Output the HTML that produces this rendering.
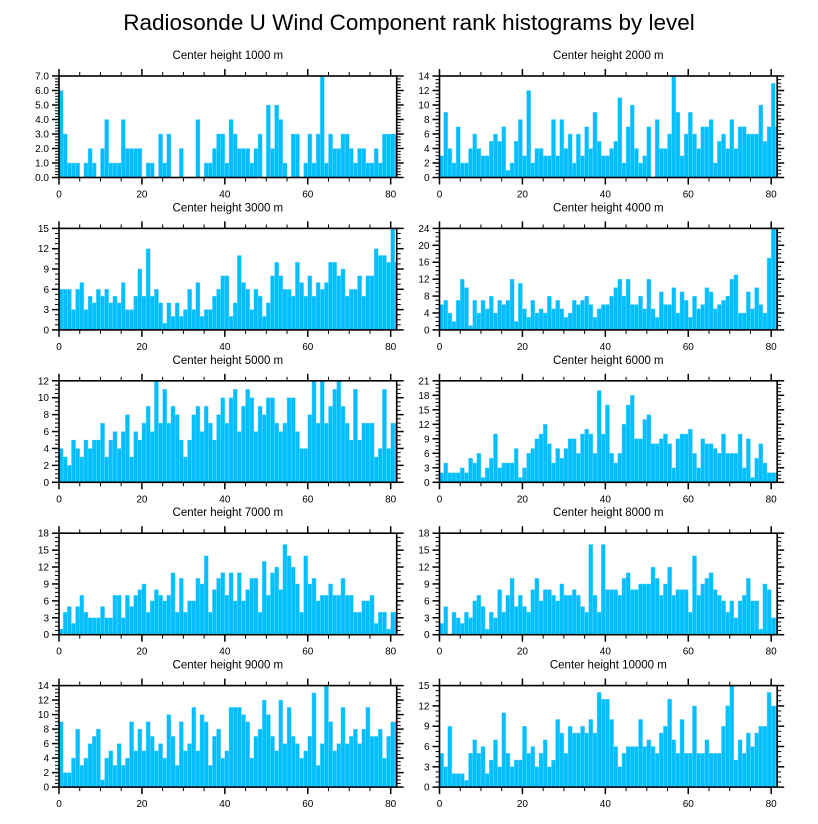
<!DOCTYPE html>
<html><head><meta charset="utf-8">
<style>
html,body{margin:0;padding:0;background:#fff;}
svg{display:block;font-family:"Liberation Sans",sans-serif;}
</style></head>
<body>
<svg id="chart" width="818" height="824" viewBox="0 0 818 824" xmlns="http://www.w3.org/2000/svg">
<text x="409" y="30" text-anchor="middle" font-size="22.5">Radiosonde U Wind Component rank histograms by level</text>
</svg>
<script>
const panelTitles = ["Center height 1000 m","Center height 2000 m","Center height 3000 m","Center height 4000 m","Center height 5000 m","Center height 6000 m","Center height 7000 m","Center height 8000 m","Center height 9000 m","Center height 10000 m"];
const yMaxes = [7,14,15,24,12,21,18,18,14,15];
const ySteps = [1,2,3,4,2,3,3,3,2,3];
const xTicks = [0,20,40,60,80];
const h1000 = [6,3,1,1,1,0,1,2,1,0,2,4,1,1,1,4,2,2,2,2,0,1,1,0,3,1,3,0,0,2,0,0,0,4,0,1,1,2,3,3,1,4,3,2,2,2,1,2,3,0,5,2,5,4,1,0,3,3,0,1,3,1,3,7,1,3,2,2,3,3,2,1,2,2,1,1,2,1,3,3,3,3];
const h2000 = [3,9,4,2,7,2,2,4,6,4,3,3,5,6,5,7,1,2,5,8,3,12,2,4,4,3,3,8,3,8,4,6,2,6,3,7,4,9,5,3,3,4,5,11,2,7,10,4,2,3,7,0,8,4,4,6,14,9,3,6,9,6,4,7,7,8,2,5,6,4,8,4,7,7,6,6,6,10,5,7,13,7];
const h3000 = [6,6,6,3,6,7,3,5,4,6,5,6,4,5,4,7,3,3,5,9,5,12,5,6,4,1,4,2,4,2,3,6,3,7,2,3,3,5,6,8,8,2,4,11,7,6,3,6,5,2,4,8,10,8,6,6,5,10,7,5,8,5,7,6,7,10,10,8,9,5,6,6,8,5,8,8,12,11,11,10,15,10];
const h4000 = [6,7,4,2,7,12,10,1,7,4,7,5,8,4,7,6,7,12,2,11,5,3,7,4,5,4,8,5,7,5,3,4,7,6,7,8,6,3,5,6,6,8,10,12,8,12,6,6,8,5,12,5,3,9,6,6,10,4,9,7,3,8,5,6,10,9,5,6,7,8,12,13,4,4,9,5,10,6,4,17,24,24];
const h5000 = [4,3,2,5,4,3,5,4,5,5,7,3,5,6,4,6,8,3,6,5,7,9,6,12,7,11,7,9,8,5,3,5,8,9,6,9,7,5,8,10,7,10,11,6,9,11,10,6,9,8,10,10,7,6,7,10,10,6,4,4,8,12,7,12,7,9,11,12,9,7,5,11,5,7,7,7,3,4,11,4,7,7];
const h6000 = [2,4,2,2,2,3,2,5,4,6,1,3,5,10,3,4,4,4,7,1,3,6,7,9,10,12,8,4,7,5,7,9,9,6,10,11,10,6,19,10,16,6,4,6,12,16,18,9,9,13,14,8,8,9,10,8,3,9,10,10,11,6,3,9,8,8,7,6,10,6,6,6,10,3,9,1,5,8,4,2,2,2];
const h7000 = [1,4,5,2,5,7,4,3,3,3,5,3,3,7,7,3,7,5,7,8,9,4,6,8,7,6,7,11,4,10,4,6,6,10,9,14,4,8,10,11,7,11,6,11,6,8,10,10,4,13,7,11,12,8,16,14,12,9,4,14,9,10,6,7,7,9,7,7,10,7,7,4,4,6,6,7,2,4,4,1,4,4];
const h8000 = [2,5,0,4,3,2,4,3,6,7,5,1,4,3,8,4,7,10,5,7,5,4,8,10,6,8,8,7,6,9,7,7,8,7,5,4,16,7,4,16,8,8,8,7,10,11,8,8,9,9,9,12,10,7,9,12,7,8,8,8,4,14,7,9,10,11,8,7,6,4,6,3,6,7,10,6,6,1,9,8,3,3];
const h9000 = [9,2,2,4,8,3,4,6,7,8,1,4,5,3,6,3,4,9,5,8,5,9,7,5,6,4,10,7,3,9,5,6,11,5,10,9,3,7,8,4,5,11,11,11,10,9,4,7,8,12,10,7,5,12,6,11,7,6,4,5,7,13,3,6,14,9,5,6,11,6,7,8,6,8,11,7,7,8,4,7,9,9];
const h10000 = [5,3,9,2,2,2,1,5,7,5,6,2,4,7,3,11,5,3,4,4,9,5,6,3,5,7,3,4,10,8,5,9,8,8,9,8,10,8,14,13,13,10,6,3,5,6,6,6,10,6,7,6,5,8,9,13,7,5,10,5,5,12,5,5,7,5,5,5,9,12,15,4,7,5,8,6,8,9,9,14,12,12];
const seriesList = [h1000,h2000,h3000,h4000,h5000,h6000,h7000,h8000,h9000,h10000];

const NS = "http://www.w3.org/2000/svg";
const svg = document.getElementById('chart');
const XMAX = 81.45, PW = 337.7, PH = 101.5;
function mk(tag, attrs, parent){const e=document.createElementNS(NS,tag);for(const k in attrs)e.setAttribute(k,attrs[k]);parent.appendChild(e);return e;}

seriesList.forEach((vals, p) => {
  const col = p % 2, row = Math.floor(p / 2);
  const x0 = col === 0 ? 59 : 439.5;
  const y0 = 76 + row * 152.4;
  const ymax = yMaxes[p], step = ySteps[p];
  const xs = v => x0 + v / XMAX * PW;
  const ys = v => y0 + PH - v / ymax * PH;
  const g = mk('g', {}, svg);
  
  
  const t = mk('text', {x: x0 + PW / 2, y: y0 - 17, 'text-anchor': 'middle', 'font-size': 11.5}, g);
  t.textContent = panelTitles[p];
  
  
  const clipId = 'clip' + p;
  const cp = mk('clipPath', {id: clipId}, g);
  mk('rect', {x: x0, y: y0, width: PW, height: PH}, cp);
  const bars = mk('g', {'clip-path': 'url(#' + clipId + ')'}, g);
  vals.forEach((v, i) => {
    if (v <= 0) return;
    const r = mk('rect', {x: xs(i), y: ys(v), width: xs(i + 1) - xs(i), height: ys(0) - ys(v), fill: '#00bfff', stroke: '#7fd8ff', 'stroke-width': 0.4}, bars);
    
    
  });
  for (let v = 0; v <= 81; v += 5) {
    const major = v % 20 === 0;
    const len = major ? 7 : 4;
    mk('line', {x1: xs(v), x2: xs(v), y1: y0 + PH, y2: y0 + PH + len, stroke: '#000', 'stroke-width': major ? 1.5 : 1}, g);
    mk('line', {x1: xs(v), x2: xs(v), y1: y0, y2: y0 - len, stroke: '#000', 'stroke-width': major ? 1.5 : 1}, g);
  }
  xTicks.forEach(v => {
    const l = mk('text', {x: xs(v), y: y0 + PH + 20, 'text-anchor': 'middle', 'font-size': 10}, g);
    l.textContent = v;
    
    
  });
  const minor = step === 1 ? 0.2 : step / 4;
  for (let k = 0; k * minor <= ymax + 1e-9; k++) {
    const v = k * minor;
    const major = Math.abs(v / step - Math.round(v / step)) < 1e-6;
    const len = major ? 7 : 4;
    mk('line', {x1: x0, x2: x0 - len, y1: ys(v), y2: ys(v), stroke: '#000', 'stroke-width': major ? 1.5 : 1}, g);
    mk('line', {x1: x0 + PW, x2: x0 + PW + len, y1: ys(v), y2: ys(v), stroke: '#000', 'stroke-width': major ? 1.5 : 1}, g);
    if (major) {
      const l = mk('text', {x: x0 - 10, y: ys(v) + 3.5, 'text-anchor': 'end', 'font-size': 10}, g);
      l.textContent = step === 1 ? v.toFixed(1) : Math.round(v);
      
      
    }
  }
  const box = mk('rect', {x: x0, y: y0, width: PW, height: PH, fill: 'none', stroke: '#000', 'stroke-width': 1.6}, g);
  
  
});
</script>
</body></html>
